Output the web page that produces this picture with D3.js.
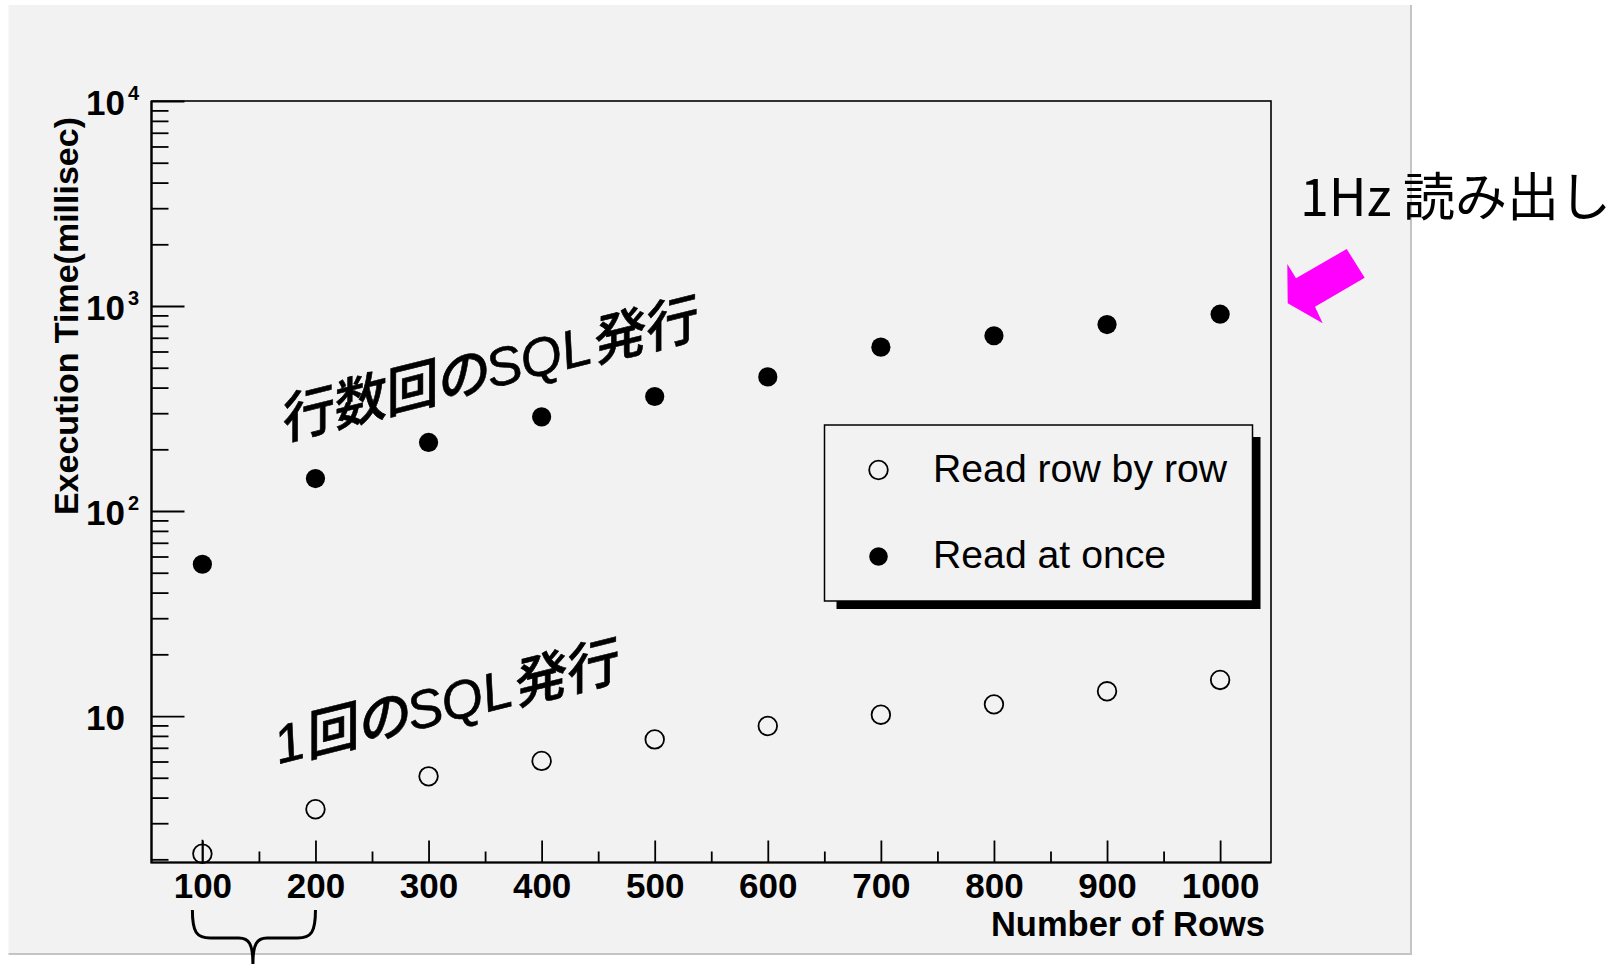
<!DOCTYPE html>
<html>
<head>
<meta charset="utf-8">
<script src="https://cdn.jsdelivr.net/npm/d3@7"></script>
<style>
  body { margin: 0; background: #fff; }
  svg { display: block; }
</style>
</head>
<body>
<div id="chart"></div>
<script>
// values
const rows = [100, 200, 300, 400, 500, 600, 700, 800, 900, 1000];
const rowByRow = [2.13, 3.51, 5.08, 6.04, 7.69, 8.94, 10.15, 11.4, 13.2, 15.0];
const rowByRowErr = [0.36, 0, 0, 0, 0, 0, 0, 0, 0, 0];
const atOnce = [55, 144, 216, 288, 362, 451, 630, 716, 812, 912];

const xMinor = [150, 250, 350, 450, 550, 650, 750, 850, 950];
const yMajor = [10, 100, 1000, 10000];
const yLabels = ["10", "10|2", "10|3", "10|4"];
const seriesNames = ["Read row by row", "Read at once"];
const xTitle = "Number of Rows";
const yTitle = "Execution Time(millisec)";
const noteMany = "行数回のSQL発行";
const noteOne = "1回のSQL発行";
const rateNote = "1Hz 読み出し";

const W = 1610, H = 964;
const frame = {left: 151.5, right: 1271, top: 101, bottom: 862.5};
const latin = "'Liberation Sans', Arial, Helvetica, sans-serif";
const mixed = "'Liberation Sans', 'Noto Sans CJK JP', sans-serif";

const svg = d3.select("#chart").append("svg")
    .attr("width", W)
    .attr("height", H)
    .attr("viewBox", `0 0 ${W} ${H}`);

// canvas
svg.append("rect")
    .attr("x", 8.5).attr("y", 5).attr("width", 1402.5).attr("height", 949)
    .attr("fill", "#f2f2f2");
svg.append("path")
    .attr("d", "M1411,5V954H8.5")
    .attr("fill", "none").attr("stroke", "#c4c4c4").attr("stroke-width", 2);

const x = d3.scaleLinear().domain([55, 1045]).range([frame.left, frame.right]);
const y = d3.scaleLog().domain([1.93, 10000]).range([frame.bottom, frame.top]);

const yMinor = [];
[1, 10, 100, 1000].forEach(d => {
    for (let k = 2; k <= 9; k++) {
        const v = d * k;
        if (v >= y.domain()[0]) yMinor.push(v);
    }
});

// brace under 100..200
const bl = x(100) - 10, br = x(200), bm = (x(100) + x(200)) / 2 - 6;
svg.append("path")
    .attr("d", `M${bl},910 C${bl},932 ${bl + 4},938 ${bl + 18},938 H${bm - 14}
        C${bm - 4},938 ${bm},944 ${bm},964 M${bm},964 C${bm},944 ${bm + 4},938 ${bm + 14},938
        H${br - 18} C${br - 4},938 ${br},932 ${br},910`)
    .attr("fill", "none").attr("stroke", "#000").attr("stroke-width", 3);

// axes
const gx = svg.append("g").attr("transform", `translate(0,${frame.bottom})`);
gx.call(d3.axisBottom(x).tickValues(rows).tickSize(-22).tickFormat(d3.format("d")));
gx.append("g").call(d3.axisBottom(x).tickValues(xMinor).tickSize(-11).tickFormat(""));
gx.selectAll(".domain").remove();
gx.selectAll("line").attr("stroke-width", 1.8);
gx.selectAll("text")
    .attr("dy", null).attr("y", 35.5)
    .attr("font-family", latin).attr("font-weight", "bold").attr("font-size", 35)
    .attr("fill", "#000");

const gy = svg.append("g").attr("transform", `translate(${frame.left},0)`);
gy.call(d3.axisLeft(y).tickValues(yMajor).tickSize(-33).tickPadding(26.5).tickFormat(""));
gy.append("g").call(d3.axisLeft(y).tickValues(yMinor).tickSize(-17).tickFormat(""));
gy.selectAll(".domain").remove();
gy.selectAll("line").attr("stroke-width", 1.8);
gy.selectAll(".tick text").each(function(d) {
    const idx = yMajor.indexOf(d);
    if (idx < 0) return;
    const parts = yLabels[idx].split("|");
    const t = d3.select(this)
        .attr("dy", null).attr("y", 13.5)
        .attr("text-anchor", "start")
        .attr("font-family", latin).attr("font-weight", "bold").attr("font-size", 35)
        .attr("fill", "#000");
    t.text(null);
    // "10" always ends at the same x, exponent hangs to the right
    t.attr("x", -26.5 - 39);
    t.append("tspan").text(parts[0]);
    if (parts[1]) {
        t.append("tspan").attr("dx", 3).attr("dy", -15).attr("font-size", 20).text(parts[1]);
    }
});

// frame
svg.append("rect")
    .attr("x", frame.left).attr("y", frame.top)
    .attr("width", frame.right - frame.left).attr("height", frame.bottom - frame.top)
    .attr("fill", "none").attr("stroke", "#000").attr("stroke-width", 1.6);
svg.append("path")
    .attr("d", `M${frame.left},${frame.top}V${frame.bottom}H${frame.right}`)
    .attr("fill", "none").attr("stroke", "#000").attr("stroke-width", 2.2);

// titles
svg.append("text")
    .attr("x", 1265).attr("y", 936)
    .attr("text-anchor", "end")
    .attr("font-family", latin).attr("font-weight", "bold").attr("font-size", 34.5)
    .text(xTitle);
svg.append("text")
    .attr("transform", "translate(77.5,117) rotate(-90)")
    .attr("text-anchor", "end")
    .attr("font-family", latin).attr("font-weight", "bold").attr("font-size", 34)
    .text(yTitle);

// points
const plot = svg.append("g");
const clipId = "frameclip";
svg.append("clipPath").attr("id", clipId).append("rect")
    .attr("x", frame.left).attr("y", frame.top)
    .attr("width", frame.right - frame.left).attr("height", frame.bottom - frame.top);

plot.append("g").attr("clip-path", `url(#${clipId})`)
    .selectAll("line")
    .data(rows.map((r, i) => ({r, v: rowByRow[i], e: rowByRowErr[i]})).filter(d => d.e > 0))
    .join("line")
    .attr("x1", d => x(d.r)).attr("x2", d => x(d.r))
    .attr("y1", d => y(d.v + d.e)).attr("y2", d => y(Math.max(d.v - d.e, 1)))
    .attr("stroke", "#000").attr("stroke-width", 1.6);

plot.append("g").selectAll("circle")
    .data(rows.map((r, i) => ({r, v: rowByRow[i]})))
    .join("circle")
    .attr("cx", d => x(d.r)).attr("cy", d => y(d.v))
    .attr("r", 9.3)
    .attr("fill", "none").attr("stroke", "#000").attr("stroke-width", 1.8);

plot.append("g").selectAll("circle")
    .data(rows.map((r, i) => ({r, v: atOnce[i]})))
    .join("circle")
    .attr("cx", d => x(d.r)).attr("cy", d => y(d.v))
    .attr("r", 9.6)
    .attr("fill", "#000");

// legend
const lg = {x: 824.5, y: 425, w: 428, h: 176};
svg.append("rect")
    .attr("x", lg.x + 12).attr("y", lg.y + 12).attr("width", lg.w - 4).attr("height", lg.h - 4)
    .attr("fill", "#000");
svg.append("rect")
    .attr("x", lg.x).attr("y", lg.y).attr("width", lg.w).attr("height", lg.h)
    .attr("fill", "#f2f2f2").attr("stroke", "#000").attr("stroke-width", 1.5);
const entries = svg.append("g").selectAll("g")
    .data(seriesNames)
    .join("g")
    .attr("transform", (d, i) => `translate(${lg.x}, ${lg.y + 45 + i * 86.5})`);
entries.append("circle")
    .attr("cx", 54).attr("cy", 0).attr("r", 9.3)
    .attr("fill", (d, i) => i === 0 ? "none" : "#000")
    .attr("stroke", (d, i) => i === 0 ? "#000" : "none")
    .attr("stroke-width", 1.8);
entries.append("text")
    .attr("x", 108.5).attr("y", 11.7)
    .attr("font-family", latin).attr("font-size", 39.2)
    .attr("fill", "#000")
    .text(d => d);

// slanted notes
svg.append("text")
    .attr("transform", "translate(283,440) rotate(-14)")
    .attr("font-family", mixed).attr("font-style", "italic").attr("font-weight", 500)
    .attr("font-size", 53.5)
    .attr("stroke", "#000").attr("stroke-width", 0.6)
    .text(noteMany);
svg.append("text")
    .attr("transform", "translate(279,764) rotate(-14)")
    .attr("font-family", mixed).attr("font-style", "italic").attr("font-weight", 500)
    .attr("font-size", 53.5)
    .attr("stroke", "#000").attr("stroke-width", 0.6)
    .text(noteOne);

// arrow pointing at the 1000-row point
const arrowShape = [[16.3, -50.2], [25, -35.9], [75.7, -65.2], [93.7, -36.5],
                    [44, -7.5], [51.7, 9.1], [16.7, -10.9]];
const ax = frame.right, ay = y(atOnce[atOnce.length - 1]);
svg.append("polygon")
    .attr("points", arrowShape.map(p => [ax + p[0], ay + p[1]].join(",")).join(" "))
    .attr("fill", "#ff00ff");

svg.append("text")
    .attr("x", 1300).attr("y", 216)
    .attr("font-family", "'Noto Sans CJK JP', sans-serif").attr("font-size", 52)
    .attr("fill", "#000")
    .text(rateNote);
</script>
</body>
</html>
